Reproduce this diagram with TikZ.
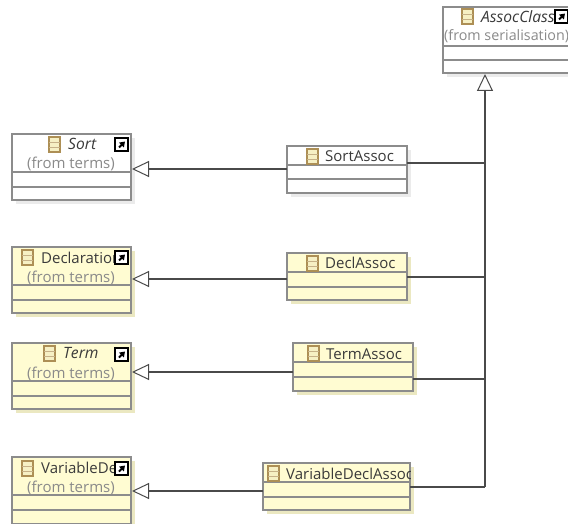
\documentclass[tikz,border=0pt]{standalone}
\usepackage{fontspec}
\setmainfont{Open Sans}
\usetikzlibrary{arrows.meta,calc}
\definecolor{boxline}{HTML}{8C8C8C}
\definecolor{boxyellow}{HTML}{FFFCD2}
\definecolor{connline}{HTML}{4A4A4A}
\definecolor{txt}{HTML}{3A3A3A}
\definecolor{fromtxt}{HTML}{8A8A8A}
\definecolor{icontan}{HTML}{AD8F55}
\definecolor{iconfill}{HTML}{F6F0C4}
\tikzset{
  x=1pt,y=-1pt,
  classbox/.style={draw=boxline,line width=1.2pt,inner sep=0pt,outer sep=0pt,anchor=north west},
  title/.style={font=\fontsize{15}{15}\selectfont,text=txt,inner sep=0pt,anchor=base west},
  titleit/.style={title,font=\fontsize{15.6}{15.6}\selectfont\itshape},
  fromlabel/.style={font=\fontsize{15}{15}\selectfont,text=fromtxt,inner sep=0pt,anchor=base},
  conn/.style={draw=connline,line width=1.1pt},
  gen/.style={conn,-{Triangle[open,length=17pt,width=16pt,fill=white,line width=1pt]}},
}
\newcommand{\classbx}[8]{%
  \fill[#6!92!black] (#2+4,#3+4) rectangle ++(#4,#5);
  \node[classbox,fill=#6,minimum width=#4pt,minimum height=#5pt] (#1) at (#2,#3) {};
  \draw[boxline,line width=1.2pt] ($(#1.north west)+(0,#7)$) -- ($(#1.north east)+(0,#7)$);
  \draw[boxline,line width=1.2pt] ($(#1.north west)+(0,#8)$) -- ($(#1.north east)+(0,#8)$);
}
\newcommand{\clsicon}[2]{%
  \draw[icontan,line width=1.2pt,fill=iconfill] (#1,#2) rectangle ++(11,15);
  \draw[icontan!70,line width=.9pt] (#1,#2+5) -- ++(11,0) (#1,#2+10) -- ++(11,0);
}
\newcommand{\shorticon}[2]{%
  \draw[black,line width=1.3pt,fill=white] (#1,#2) rectangle ++(13,13);
  \draw[black,line width=2pt,-{Triangle[length=5pt,width=6.5pt]}] (#1+4,#2+9.5) -- (#1+10,#2+3.5);
}
\begin{document}
\begin{tikzpicture}
\useasboundingbox (0,0) rectangle (568,524);
\clip (0,0) rectangle (568,524);
\fill[white] (0,0) rectangle (568,524);

\classbx{assocclass}{443}{7}{140}{66}{white}{39}{53}
\classbx{sort}{12}{134}{119}{66}{white}{38}{53}
\classbx{decl}{12}{247}{119}{66}{boxyellow}{38}{53}
\classbx{term}{12}{343}{119}{66}{boxyellow}{38}{53}
\classbx{vardecl}{12}{457}{119}{67}{boxyellow}{38}{53}
\classbx{sortassoc}{287}{146}{120}{47}{white}{19}{33}
\classbx{declassoc}{287}{253}{120}{47}{boxyellow}{19}{34}
\classbx{termassoc}{293}{343}{120}{48}{boxyellow}{19}{34}
\classbx{varassoc}{263}{463}{147}{47}{boxyellow}{19}{34}

% titles
\clsicon{462}{9}
\node[titleit] (tassoc) at (481,23) {AssocClass};
\shorticon{555}{10}
\node[fromlabel,anchor=base west,font=\fontsize{14.3}{14.3}\selectfont] (fassoc) at (444,41) {(from serialisation)};

\clsicon{49}{137}
\node[titleit] (tsort) at (68,150) {Sort};
\shorticon{115}{138}
\node[fromlabel] (fsort) at (71,169) {(from terms)};

\clsicon{22}{250}
\node[title] (tdecl) at (41,263) {Declaration};
\shorticon{115}{251}
\node[fromlabel] (fdecl) at (71,282) {(from terms)};

\clsicon{44}{346}
\node[titleit] (tterm) at (63,358) {Term};
\shorticon{115}{348}
\node[fromlabel] (fterm) at (71,378) {(from terms)};

\clsicon{22}{461}
\node[title] (tvar) at (41,473) {VariableDe};
\shorticon{115}{462}
\node[fromlabel] (fvar) at (71,492) {(from terms)};

\clsicon{307}{149}
\node[title] (tsa) at (325,162) {SortAssoc};
\clsicon{307}{256}
\node[title] (tda) at (325,268) {DeclAssoc};
\clsicon{308}{346}
\node[title] (tta) at (326,359) {TermAssoc};
\begin{scope}
\clip (263,463) rectangle (410,510);
\clsicon{268}{466}
\node[title] (tva) at (286,479) {VariableDeclAssoc};
\end{scope}

% connectors
\coordinate (l1) at (200,169);
\coordinate (l2) at (200,279);
\coordinate (l3) at (200,372);
\coordinate (l4) at (200,491);
\coordinate (r1) at (485,163);
\coordinate (r2) at (485,277);
\coordinate (r3) at (485,379);
\coordinate (r4) at (485,487);
\draw[gen] (sortassoc.west |- l1) -- ($(sort.east |- l1)+(1,0)$);
\draw[gen] (declassoc.west |- l2) -- ($(decl.east |- l2)+(1,0)$);
\draw[gen] (termassoc.west |- l3) -- ($(term.east |- l3)+(1,0)$);
\draw[gen] (varassoc.west |- l4) -- ($(vardecl.east |- l4)+(1,0)$);
\draw[conn] (sortassoc.east |- r1) -- (r1);
\draw[conn] (declassoc.east |- r2) -- (r2);
\draw[conn] (termassoc.east |- r3) -- (r3);
\draw[conn] (varassoc.east |- r4) -- (r4);
\draw[gen] (r4) -- ($(r4 |- assocclass.south)+(0,1)$);
\end{tikzpicture}
\end{document}
